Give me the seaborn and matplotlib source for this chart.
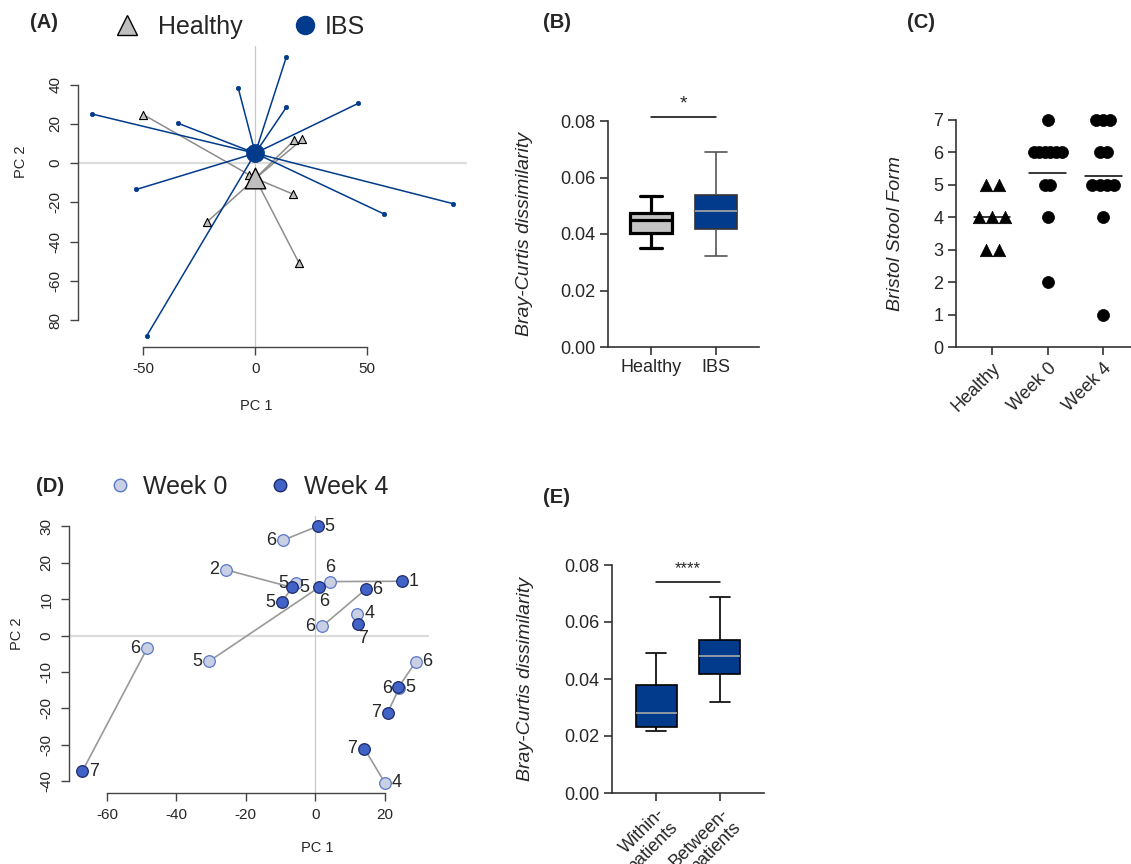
import numpy as np
import pandas as pd
import seaborn as sns
import matplotlib.pyplot as plt
import matplotlib.transforms as mtrans
from matplotlib.lines import Line2D


# (A) PCoA of healthy vs IBS samples
healthy_pc1 = [-50.0, 17.4, 21.0, 16.8, -21.7, 19.5, -3.0]
healthy_pc2 = [24.7, 11.7, 12.1, -15.8, -30.1, -50.9, -6.0]
ibs_pc1 = [-72.8, -34.7, -7.7, 13.8, 13.8, 46.0, -53.1, 57.6, 88.1, -48.5, -3.1]
ibs_pc2 = [25.0, 20.4, 38.5, 54.0, 28.4, 30.5, -13.4, -26.0, -20.6, -88.0, 6.8]
a_xticks = [-50, 0, 50]
a_yticks = [40, 20, 0, -20, -40, -60, -80]
a_ytick_labels = ["40", "20", "0", "-20", "-40", "-60", "80"]

# (B) Bray-Curtis, five number summary (min, q1, median, q3, max)
b_groups = ["Healthy", "IBS"]
bc_healthy = [0.0349, 0.0403, 0.0448, 0.0473, 0.0534]
bc_ibs = [0.0321, 0.0417, 0.0482, 0.0539, 0.0691]

# (C) Bristol stool form
c_groups = ["Healthy", "Week 0", "Week 4"]
bsf_healthy = [5, 5, 4, 4, 4, 3, 3]
bsf_week0 = [7, 6, 6, 6, 6, 6, 6, 5, 5, 4, 2]
bsf_week4 = [7, 7, 7, 6, 6, 5, 5, 5, 5, 4, 1]

# (D) PCoA week 0 vs week 4, paired per patient, labelled with BSF
w0_pc1 = [-9.2, -25.6, -5.7, -30.5, 4.3, 1.9, 12.1, -48.4, 28.9, 24.1, 20.0]
w0_pc2 = [26.2, 18.0, 14.4, -7.0, 14.8, 2.5, 6.0, -3.5, -7.2, -14.4, -40.4]
w0_bsf = [6, 2, 5, 5, 6, 6, 4, 6, 6, 6, 4]
w4_pc1 = [0.7, -6.7, -9.7, 1.0, 24.8, 14.5, 12.2, -67.1, 23.9, 20.8, 14.1]
w4_pc2 = [30.0, 13.2, 9.2, 13.2, 14.9, 12.7, 3.1, -37.3, -14.2, -21.2, -31.0]
w4_bsf = [5, 5, 5, 6, 1, 6, 7, 7, 5, 7, 7]
w0_side = ["left", "left", "left", "left", "above", "left", "right", "left", "right", "left", "right"]
w4_side = ["right", "right", "left", "below", "right", "right", "below", "right", "right", "left", "left"]
d_xticks = [-60, -40, -20, 0, 20]
d_yticks = [-40, -30, -20, -10, 0, 10, 20, 30]

# (E) Bray-Curtis within / between patients (min, q1, median, q3, max)
e_groups = ["Within-\npatients", "Between-\npatients"]
bc_within = [0.0218, 0.0232, 0.0280, 0.0380, 0.0491]
bc_between = [0.0320, 0.0416, 0.0480, 0.0536, 0.0686]

NAVY = "#023a8c"
LIGHT = "#c9d0e4"
ROYAL = "#4263c6"

sns.set_style("ticks")
plt.rcParams["font.family"] = ["Liberation Sans", "DejaVu Sans"]
plt.rcParams["axes.unicode_minus"] = False

W, H = 1131, 864
fig = plt.figure(figsize=(W / 100, H / 100), dpi=100)


def px_axes(left, top, right, bottom):
    return fig.add_axes([left / W, 1 - bottom / H, (right - left) / W, (bottom - top) / H])


def r_style(ax, xb, yb, xt, yt, ytl=None, ylx=-0.13):
    sns.despine(ax=ax)
    for s in ["left", "bottom"]:
        ax.spines[s].set_color("#444444")
        ax.spines[s].set_linewidth(1.0)
    ax.spines["left"].set_bounds(*yb)
    ax.spines["bottom"].set_bounds(*xb)
    ax.set_xticks(xt)
    ax.set_xticklabels([str(v) for v in xt])
    ax.set_yticks(yt)
    ax.set_yticklabels(ytl if ytl else [str(v) for v in yt], rotation=90, va="center")
    ax.tick_params(length=6, width=1.0, color="#444444", labelsize=11, pad=5)
    ax.axhline(0, color="#dddddd", lw=1.6, zorder=0)
    ax.axvline(0, color="#c8c8c8", lw=0.9, zorder=0)
    ax.xaxis.set_label_coords(0, -0.174, transform=mtrans.blended_transform_factory(ax.transData, ax.transAxes))
    ax.yaxis.set_label_coords(ylx, 0, transform=mtrans.blended_transform_factory(ax.transAxes, ax.transData))
    ax.set_xlabel("PC 1", fontsize=10.5)
    ax.set_ylabel("PC 2", fontsize=10.5)


def prism_style(ax):
    sns.despine(ax=ax)
    for s in ["left", "bottom"]:
        ax.spines[s].set_color("#333333")
        ax.spines[s].set_linewidth(1.2)
    ax.tick_params(length=6, width=1.2, color="#333333", labelsize=13, pad=3)


# ---------------- (A)
axA = px_axes(78, 46, 467, 347)
hc = (np.mean(healthy_pc1), np.mean(healthy_pc2))
ic = (np.mean(ibs_pc1), np.mean(ibs_pc2))
for x, y in zip(healthy_pc1, healthy_pc2):
    axA.plot([hc[0], x], [hc[1], y], color="#8c8c8c", lw=1.1, zorder=2)
for x, y in zip(ibs_pc1, ibs_pc2):
    axA.plot([ic[0], x], [ic[1], y], color=NAVY, lw=1.1, zorder=3)
sns.scatterplot(x=healthy_pc1, y=healthy_pc2, marker="^", s=34, color="#bfbfbf",
                edgecolor="black", linewidth=0.8, ax=axA, zorder=4)
sns.scatterplot(x=ibs_pc1, y=ibs_pc2, marker="o", s=10, color=NAVY,
                edgecolor=NAVY, linewidth=0.5, ax=axA, zorder=4)
sns.scatterplot(x=[hc[0]], y=[hc[1]], marker="^", s=220, color="#bfbfbf",
                edgecolor="black", linewidth=1.0, ax=axA, zorder=5)
sns.scatterplot(x=[ic[0]], y=[ic[1]], marker="o", s=170, color=NAVY,
                edgecolor=NAVY, linewidth=0.5, ax=axA, zorder=6)
axA.set_xlim(-79.2, 94.5)
axA.set_ylim(-93.7, 59.7)
r_style(axA, (-50, 50), (-80, 40), a_xticks, a_yticks, a_ytick_labels, ylx=-0.129)
legA1 = fig.legend(handles=[Line2D([], [], ls="", marker="^", ms=14, mfc="#bfbfbf", mec="black", mew=1.0)],
                   labels=["Healthy"], loc="center left", bbox_to_anchor=(112 / W, 1 - 27 / H),
                   frameon=False, fontsize=18, handlelength=1.2, handletextpad=0.64,
                   borderpad=0, borderaxespad=0)
legA2 = fig.legend(handles=[Line2D([], [], ls="", marker="o", ms=13, mfc=NAVY, mec=NAVY)],
                   labels=["IBS"], loc="center left", bbox_to_anchor=(292.5 / W, 1 - 27 / H),
                   frameon=False, fontsize=18, handlelength=1.0, handletextpad=0.3,
                   borderpad=0, borderaxespad=0)

# ---------------- (B)
axB = px_axes(608, 121, 759, 347)
df_b = pd.DataFrame({"group": ["Healthy"] * 5 + ["IBS"] * 5, "value": bc_healthy + bc_ibs})
sns.boxplot(data=df_b[df_b.group == "Healthy"], x="group", y="value", order=b_groups,
            color="#c4c4c4", saturation=1, linecolor="black", linewidth=2.3,
            whis=(0, 100), width=0.65, ax=axB)
sns.boxplot(data=df_b[df_b.group == "IBS"], x="group", y="value", order=b_groups,
            color=NAVY, saturation=1, linecolor="#333333", linewidth=1.2,
            whis=(0, 100), width=0.65, ax=axB,
            medianprops={"color": "#aaaaaa"}, whiskerprops={"color": "#555555"},
            capprops={"color": "#555555"})
axB.set_xlim(-0.66, 1.66)
axB.set_ylim(0, 0.08)
axB.set_yticks([0, 0.02, 0.04, 0.06, 0.08])
axB.set_yticklabels(["0.00", "0.02", "0.04", "0.06", "0.08"])
axB.plot([0, 1], [0.0815, 0.0815], color="black", lw=1.1, clip_on=False)
axB.text(0.5, 0.0830, "*", ha="center", va="bottom", fontsize=14)
prism_style(axB)
axB.set_xlabel("")
axB.set_ylabel("Bray-Curtis dissimilarity", fontsize=14, style="italic")
axB.yaxis.set_label_coords(-0.497, 0.5)


# ---------------- (C)
def spread(values, step):
    values = np.asarray(values)
    offs = np.zeros(len(values))
    for v in np.unique(values):
        idx = np.where(values == v)[0]
        offs[idx] = (np.arange(len(idx)) - (len(idx) - 1) / 2) * step
    return offs


axC = px_axes(956, 120, 1131, 347)
for i, (vals, mk, step) in enumerate([(bsf_healthy, "^", 0.23), (bsf_week0, "o", 0.1),
                                      (bsf_week4, "o", 0.13)]):
    sns.scatterplot(x=i + spread(vals, step), y=vals, marker=mk, s=80 if mk == "^" else 75,
                    color="black", edgecolor="black", linewidth=0.5, ax=axC, clip_on=False, zorder=3)
    m = np.mean(vals)
    axC.plot([i - 0.33, i + 0.33], [m, m], color="black", lw=1.1, zorder=4)
axC.set_xlim(-0.65, 2.5)
axC.set_ylim(0, 7)
axC.set_yticks(range(8))
axC.set_xticks(range(3))
axC.set_xticklabels(c_groups, rotation=45, ha="right", rotation_mode="anchor")
prism_style(axC)
axC.set_ylabel("Bristol Stool Form", fontsize=14, style="italic")
axC.yaxis.set_label_coords(-0.297, 0.5)

# ---------------- (D)
axD = px_axes(69, 516, 429, 793)
for x0, y0, x4, y4 in zip(w0_pc1, w0_pc2, w4_pc1, w4_pc2):
    axD.plot([x0, x4], [y0, y4], color="#999999", lw=1.2, zorder=2)
sns.scatterplot(x=w0_pc1, y=w0_pc2, s=70, color=LIGHT, edgecolor="#5a78c8",
                linewidth=0.9, ax=axD, zorder=3)
sns.scatterplot(x=w4_pc1, y=w4_pc2, s=70, color=ROYAL, edgecolor="#1c2a6e",
                linewidth=0.9, ax=axD, zorder=4)
offs = {"right": (8.5, 0), "left": (-8.5, 0), "above": (0, 10), "below": (4, -10)}
for xs, ys, labs, sides in [(w0_pc1, w0_pc2, w0_bsf, w0_side), (w4_pc1, w4_pc2, w4_bsf, w4_side)]:
    for x, y, lab, sd in zip(xs, ys, labs, sides):
        axD.annotate(str(lab), (x, y), xytext=offs[sd], textcoords="offset points",
                     ha="center", va="center", fontsize=13, zorder=5)
axD.set_xlim(-70.9, 32.7)
axD.set_ylim(-43.2, 32.8)
r_style(axD, (-60, 20), (-40, 30), d_xticks, d_yticks, ylx=-0.125)
axD.legend(handles=[Line2D([], [], ls="", marker="o", ms=9, mfc=LIGHT, mec="#5a78c8"),
                    Line2D([], [], ls="", marker="o", ms=9, mfc=ROYAL, mec="#1c2a6e")],
           labels=["Week 0", "Week 4"], loc="center left", bbox_to_anchor=(107 / W, 1 - 487 / H),
           bbox_transform=fig.transFigure, ncol=2, frameon=False, fontsize=18,
           handlelength=1.0, handletextpad=0.45, columnspacing=1.6, borderpad=0, borderaxespad=0)

# ---------------- (E)
axE = px_axes(612, 565, 764, 793)
df_e = pd.DataFrame({"group": [e_groups[0]] * 5 + [e_groups[1]] * 5, "value": bc_within + bc_between})
sns.boxplot(data=df_e, x="group", y="value", order=e_groups, color=NAVY, saturation=1,
            linecolor="black", linewidth=1.2, whis=(0, 100), width=0.64, ax=axE,
            medianprops={"color": "#aaaaaa"})
axE.set_xlim(-0.69, 1.69)
axE.set_ylim(0, 0.08)
axE.set_yticks([0, 0.02, 0.04, 0.06, 0.08])
axE.set_yticklabels(["0.00", "0.02", "0.04", "0.06", "0.08"])
axE.set_xticks([0, 1])
axE.set_xticklabels(e_groups, rotation=45, ha="right", rotation_mode="anchor", linespacing=1.1)
axE.plot([0, 1], [0.0741, 0.0741], color="black", lw=1.1, clip_on=False)
axE.text(0.5, 0.0762, "****", ha="center", va="bottom", fontsize=12)
prism_style(axE)
axE.set_xlabel("")
axE.set_ylabel("Bray-Curtis dissimilarity", fontsize=14, style="italic")
axE.yaxis.set_label_coords(-0.513, 0.5)

# panel letters
for lab, x, y in [("(A)", 44, 22), ("(B)", 557, 22), ("(C)", 921, 22), ("(D)", 50, 487), ("(E)", 556, 498)]:
    fig.text(x / W, 1 - y / H, lab, fontsize=14.5, fontweight="bold", ha="center", va="center")

fig.savefig("out.png", dpi=100)
